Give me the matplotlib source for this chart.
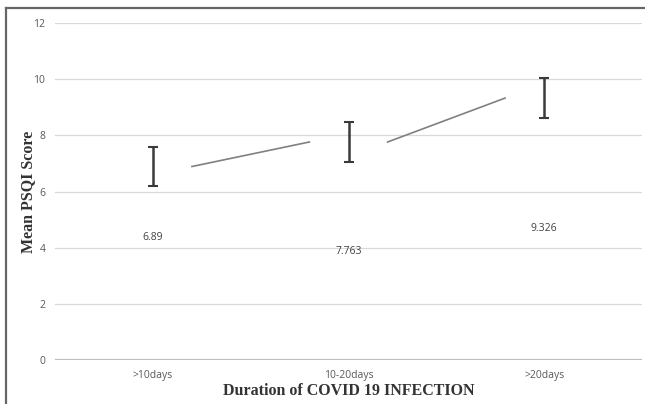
import numpy as np
import matplotlib.pyplot as plt
from matplotlib.lines import Line2D

# Data
categories = [">10days", "10-20days", ">20days"]
means = [6.89, 7.763, 9.326]
errors = [0.71, 0.71, 0.71]
mean_labels = ["6.89", "7.763", "9.326"]
label_y = [4.35, 3.85, 4.67]  # where the data labels sit

fig = plt.figure(figsize=(6.45, 4.04), dpi=100)
ax = fig.add_axes([55 / 645, 1 - 360 / 404, (642 - 55) / 645, (360 - 23) / 404])

x = np.arange(len(categories))

# gridlines
for v in range(2, 13, 2):
    ax.axhline(v, color="#d9d9d9", lw=0.9, zorder=0)
ax.axhline(0, color="#bfbfbf", lw=1.6, zorder=1)

# error bars (no markers)
ax.errorbar(x, means, yerr=errors, fmt="none", ecolor="#3a3a3a",
            elinewidth=1.8, capsize=3.5, capthick=1.5, zorder=3)

# connecting segments, drawn with gaps around each category
for i in range(len(x) - 1):
    ax.plot([x[i] + 0.2, x[i + 1] - 0.2], [means[i], means[i + 1]],
            color="#808080", lw=1.2, zorder=2)

# data labels
for xi, yl, txt in zip(x, label_y, mean_labels):
    ax.text(xi, yl, txt, ha="center", va="center", fontsize=7.5,
            color="#404040", family="Open Sans")

ax.set_xlim(-0.5, 2.5)
ax.set_ylim(0, 12)
ax.set_yticks(range(0, 13, 2))
ax.set_xticks(x)
ax.set_xticklabels(categories)
ax.tick_params(length=0, labelsize=7.5, labelcolor="#595959", pad=7)
for lab in ax.get_xticklabels() + ax.get_yticklabels():
    lab.set_family("Open Sans")
for s in ax.spines.values():
    s.set_visible(False)

ax.set_xlabel("Duration of COVID 19 INFECTION", family="Liberation Serif",
              fontweight="bold", fontsize=11.5, color="#333333", labelpad=1.5)
ax.set_ylabel("Mean PSQI Score", family="Liberation Serif",
              fontweight="bold", fontsize=11.5, color="#333333", labelpad=-2)

# outer frame (left and top edges visible)
fig.add_artist(Line2D([6 / 645, 6 / 645], [0, 1 - 8 / 404], transform=fig.transFigure,
                      color="#666666", lw=1.6))
fig.add_artist(Line2D([6 / 645, 1], [1 - 8 / 404, 1 - 8 / 404], transform=fig.transFigure,
                      color="#666666", lw=1.6))

fig.savefig("out.png", dpi=100)
